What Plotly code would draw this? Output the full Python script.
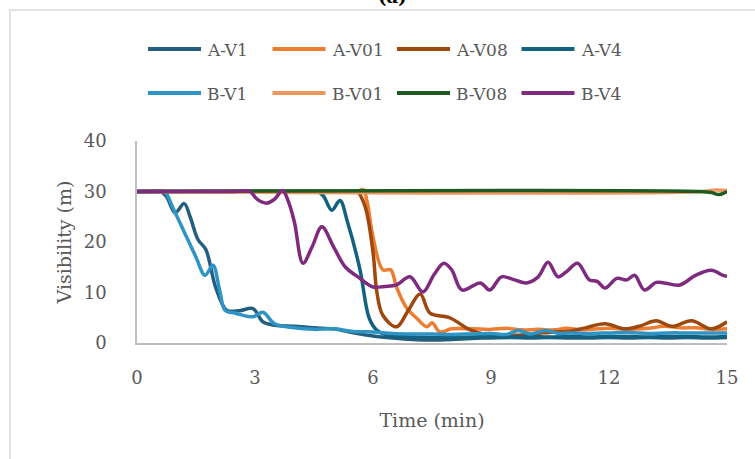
import plotly.graph_objects as go

# Visibility (m) over time (min) for each test series
t_a_v1 = [0, 0.2, 0.4, 0.6, 0.75, 0.97, 1.2, 1.35, 1.55, 1.75, 2.0, 2.28, 2.6, 2.95, 3.2, 3.5, 4.0, 4.5,
          5.0, 5.5, 6.0, 6.5, 7.0, 7.5, 8.0, 8.5, 9.0, 9.5, 10.0, 10.5, 11.0, 11.5, 12.0, 12.5, 13.0,
          13.5, 14.0, 14.5, 15.0]
v_a_v1 = [30, 30, 30, 30, 29, 25.8, 27.6, 25, 20.5, 18.5, 11, 6.5, 6.4, 6.8, 4.2, 3.5, 3.3, 3.0,
          2.8, 2.0, 1.4, 1.0, 0.7, 0.6, 0.7, 0.9, 1.0, 1.1, 1.0, 1.1, 1.0, 1.0, 1.1, 1.0, 1.1,
          1.0, 1.1, 1.0, 1.1]

t_a_v01 = [0, 1, 2, 3, 4, 5, 5.4, 5.6, 5.75, 5.85, 6.0, 6.25, 6.45, 6.6, 6.85, 7.1, 7.37, 7.5, 7.7,
           8.0, 8.5, 9.0, 9.4, 9.8, 10.2, 10.6, 10.9, 11.3, 11.7, 12.0, 12.5, 13.0, 13.4, 13.8, 14.2,
           14.6, 15.0]
v_a_v01 = [30, 30, 30, 30, 30, 30, 30, 30, 30.4, 28, 21, 14.5, 14.5, 11, 7, 5, 3.2, 4.0, 2.2,
           2.8, 2.8, 2.7, 2.9, 2.6, 2.7, 2.6, 2.9, 2.6, 2.8, 2.9, 2.7, 2.9, 3.3, 3.0, 3.0,
           2.7, 2.8]

t_a_v08 = [0, 1, 2, 3, 4, 5, 5.4, 5.6, 5.8, 6.0, 6.1, 6.25, 6.6, 6.9, 7.2, 7.45, 7.95, 8.47, 8.9,
           9.4, 9.8, 10.2, 10.6, 11.0, 11.4, 11.9, 12.4, 12.8, 13.2, 13.6, 14.1, 14.6, 15.0]
v_a_v08 = [30, 30, 30, 30, 30, 30, 30, 30, 27, 18, 10, 5.5, 3.2, 6.5, 9.7, 5.9, 5.0, 2.6, 1.6,
           1.5, 1.6, 1.9, 2.2, 2.3, 3.0, 3.8, 2.8, 3.4, 4.4, 3.3, 4.4, 2.8, 4.2]

t_a_v4 = [0, 1, 2, 3, 4, 4.4, 4.6, 4.75, 4.95, 5.16, 5.35, 5.67, 5.9, 6.1, 6.4, 7.0, 7.5, 8.0, 8.5,
          9.0, 9.5, 10.0, 10.5, 11.0, 11.5, 12.0, 12.5, 13.0, 13.5, 14.0, 14.5, 15.0]
v_a_v4 = [30, 30, 30, 30, 30, 30, 30, 29, 26.3, 28.2, 24, 14.5, 5, 2.5, 1.5, 1.2, 1.1, 1.1, 1.2,
          1.3, 1.2, 1.3, 1.2, 1.3, 1.2, 1.3, 1.3, 1.2, 1.3, 1.3, 1.2, 1.3]

t_b_v1 = [0, 0.25, 0.5, 0.7, 0.9, 1.2, 1.5, 1.73, 1.93, 2.1, 2.24, 2.5, 2.95, 3.2, 3.5, 4.0, 4.5,
          5.0, 5.5, 6.0, 6.5, 7.0, 7.5, 8.0, 8.5, 9.0, 9.4, 9.7, 10.0, 10.4, 10.7, 11.0, 11.5, 12.0,
          12.5, 13.0, 13.5, 14.0, 14.5, 15.0]
v_b_v1 = [30, 30, 30, 30, 27, 22, 17, 13.4, 15.4, 10.5, 6.5, 5.9, 5.2, 6.1, 3.8, 3.0, 2.7,
          2.8, 2.3, 2.2, 1.9, 1.8, 1.8, 1.7, 1.8, 1.9, 1.7, 2.5, 1.8, 2.5, 1.9, 2.0, 1.9, 2.0,
          2.1, 1.9, 2.0, 2.0, 2.0, 2.0]

t_b_v01 = [0, 14.4, 14.7, 15.0]
v_b_v01 = [30, 30, 30.3, 30.2]

t_b_v08 = [0, 14.3, 14.6, 14.8, 15.0]
v_b_v08 = [30, 30, 29.8, 29.4, 30]

t_b_v4 = [0, 0.5, 1, 1.5, 2, 2.5, 2.87, 3.05, 3.3, 3.5, 3.7, 3.85, 4.0, 4.22, 4.45, 4.7, 5.0, 5.3,
          5.6, 6.0, 6.3, 6.6, 6.94, 7.27, 7.55, 7.8, 8.0, 8.26, 8.73, 8.97, 9.27, 9.6, 9.9, 10.2,
          10.45, 10.7, 10.9, 11.2, 11.5, 11.7, 11.9, 12.2, 12.45, 12.65, 12.9, 13.2, 13.4, 13.8,
          14.2, 14.6, 14.9, 15.0]
v_b_v4 = [30, 30, 30, 30, 30, 30, 30, 28.5, 27.7, 28.5, 30.2, 28, 24, 15.8, 19, 23, 19, 15,
          13.2, 11.1, 11.2, 11.5, 13.1, 10.1, 13.5, 15.8, 14.5, 10.5, 11.9, 10.5, 13.1, 12.5, 11.9, 13.1,
          16, 13.1, 14, 15.8, 12.5, 12.2, 10.9, 12.8, 12.5, 13.4, 10.5, 12, 11.9, 11.5,
          13.4, 14.4, 13.4, 13.2]

x_ticks = [0, 3, 6, 9, 12, 15]
y_ticks = [0, 10, 20, 30, 40]

series = [
    ("A-V1", t_a_v1, v_a_v1, "#245E7E"),
    ("A-V01", t_a_v01, v_a_v01, "#ED7D31"),
    ("A-V08", t_a_v08, v_a_v08, "#9E480E"),
    ("A-V4", t_a_v4, v_a_v4, "#12627F"),
    ("B-V1", t_b_v1, v_b_v1, "#2E94C6"),
    ("B-V01", t_b_v01, v_b_v01, "#F1975E"),
    ("B-V08", t_b_v08, v_b_v08, "#1E5B22"),
    ("B-V4", t_b_v4, v_b_v4, "#7E2A7E"),
]

FONT = "DejaVu Serif"
GREY = "#595959"

fig = go.Figure()
for name, t, v, color in series:
    fig.add_trace(go.Scatter(
        x=t, y=v, name=name, mode="lines", showlegend=False,
        line=dict(color=color, width=3.5, shape="spline", smoothing=1.0),
    ))

L, R, T, B = 137, 28, 141, 116
W, H = 755, 459
pw, ph = W - L - R, H - T - B


def px_x(px):
    return (px - L) / pw


def px_y(py):
    return (H - B - py) / ph


# Legend: two rows of four entries above the plot (swatch line + label)
shapes = [dict(
    type="rect", xref="paper", yref="paper",
    x0=px_x(10), x1=px_x(770), y0=px_y(470), y1=px_y(10),
    line=dict(color="#D9D9D9", width=1.5), fillcolor="rgba(0,0,0,0)", layer="below",
)]
annotations = [dict(
    text="<b>(a)</b>", xref="paper", yref="paper", x=px_x(392), y=px_y(9),
    xanchor="center", yanchor="bottom", showarrow=False,
    font=dict(family=FONT, size=18, color="black"),
)]
for i, (name, _, _, color) in enumerate(series):
    col, row = i % 4, i // 4
    x0 = 148 + 124.5 * col
    yc = 49 + 44 * row
    shapes.append(dict(
        type="line", xref="paper", yref="paper",
        x0=px_x(x0), x1=px_x(x0 + 53), y0=px_y(yc), y1=px_y(yc),
        line=dict(color=color, width=4),
    ))
    annotations.append(dict(
        text=name, xref="paper", yref="paper", x=px_x(x0 + 57), y=px_y(yc + 1),
        xanchor="left", yanchor="middle", showarrow=False,
        font=dict(family=FONT, size=17, color=GREY),
    ))

fig.update_layout(
    width=W, height=H,
    margin=dict(l=L, r=R, t=T, b=B, autoexpand=False),
    paper_bgcolor="white", plot_bgcolor="white",
    font=dict(family=FONT, color=GREY),
    showlegend=False,
    xaxis=dict(
        range=[0, 15], tickvals=x_ticks, ticktext=[str(v) for v in x_ticks],
        showgrid=False, zeroline=False, showline=True, linecolor="#BFBFBF", linewidth=1.5,
        ticks="", ticklabelstandoff=18,
        tickfont=dict(family=FONT, size=18, color=GREY),
        title=dict(text="Time (min)", font=dict(family=FONT, size=19, color=GREY), standoff=26),
    ),
    yaxis=dict(
        range=[0, 40], tickvals=y_ticks, ticktext=[str(v) for v in y_ticks],
        showgrid=False, zeroline=False, showline=True, linecolor="#BFBFBF", linewidth=1.5,
        ticks="", ticklabelstandoff=25,
        tickfont=dict(family=FONT, size=18, color=GREY),
        title=dict(text="Visibility (m)", font=dict(family=FONT, size=19, color=GREY), standoff=7),
    ),
    shapes=shapes,
    annotations=annotations,
)

fig.write_html("out.html")
